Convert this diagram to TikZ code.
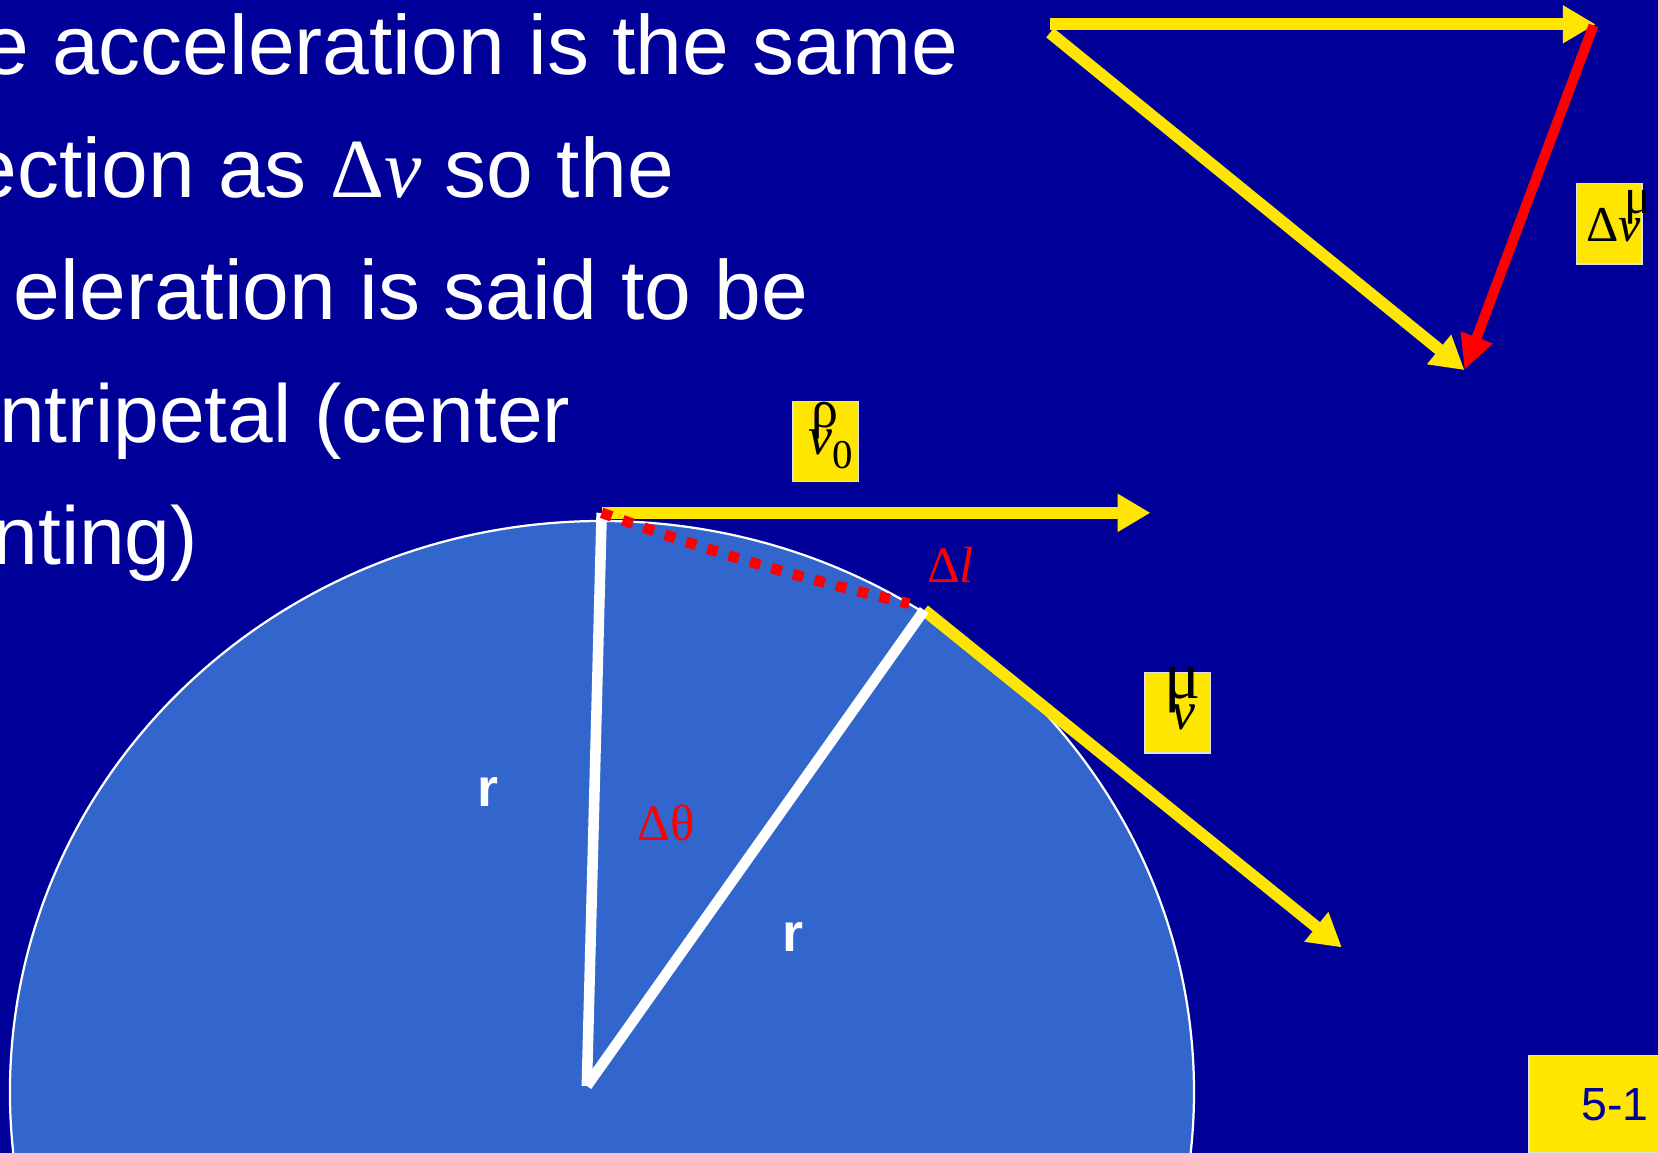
\documentclass[tikz,border=0pt]{standalone}
\usepackage{fontspec}
\setmainfont{Liberation Sans}
\newfontfamily\timesfont{Liberation Serif}
\usetikzlibrary{arrows.meta}

\definecolor{slideblue}{RGB}{0,0,153}
\definecolor{diskblue}{RGB}{51,102,204}
\definecolor{vecyellow}{RGB}{255,230,0}
\definecolor{vecred}{RGB}{255,0,0}
\definecolor{boxedge}{RGB}{225,225,225}

% mark set above a letter, as the slide prints it
\newcommand{\markover}[3]{\rlap{\hspace*{#2}\raisebox{#3}{#1}}}

\begin{document}
\begin{tikzpicture}[x=0.01cm,y=-0.01cm,
  slidetext/.style={text=white,inner sep=0,anchor=base east,
    font=\fontsize{22.6}{26}\selectfont},
  vecarrow/.style={draw=vecyellow,line width=0.113cm,
    -{Triangle[length=0.31cm,width=0.34cm]}},
  dvarrow/.style={draw=vecred,line width=0.095cm,
    -{Triangle[length=0.33cm,width=0.30cm]}},
  radline/.style={draw=white,line width=0.1cm},
  veclabel/.style={fill=vecyellow,draw=boxedge,line width=0.4pt,inner sep=0,
    minimum width=0.62cm,minimum height=0.76cm,
    font=\timesfont\fontsize{14.5}{16}\selectfont},
  rlabel/.style={text=white,inner sep=0,anchor=base west,
    font=\bfseries\fontsize{14.5}{16}\selectfont},
  anglabel/.style={text=vecred,inner sep=0,anchor=base west,
    font=\timesfont\fontsize{13.7}{16}\selectfont}]

  \useasboundingbox (0,0) rectangle (1568,1090);
  \fill[slideblue] (0,0) rectangle (1568,1090);

  % geometry of the circle
  \coordinate (O) at (555,1027);
  \coordinate (A) at (569,485);
  \coordinate (B) at (874,577);
  \coordinate (arcend) at (860,571);
  \coordinate (v0tip) at (1088,485);
  \coordinate (vtip) at (1269,896);
  % vector triangle
  \coordinate (dvS) at (993,23);
  \coordinate (dvE) at (1509,23);
  \coordinate (dvD) at (993,31);
  \coordinate (dvR) at (1507,24);
  \coordinate (dvT) at (1385,350);

  \filldraw[fill=diskblue,draw=white,line width=0.6pt]
    (569.3,1032.7) ellipse [x radius=559.9,y radius=540];

  \draw[vecarrow] (A) -- (v0tip);
  \draw[vecarrow] (B) -- (vtip);
  \draw[radline] (O) -- (A);
  \draw[radline] (O) -- (B);
  \draw[vecred,line width=0.1cm,dash pattern=on 0.1cm off 0.111cm]
    (A) to[bend right=3] (arcend);

  \draw[vecarrow] (dvS) -- (dvE);
  \draw[vecarrow] (dvD) -- (dvT);
  \draw[dvarrow] (dvR) -- (dvT);

  % text of the slide
  \node[slidetext] (line1) at (907,70) {e acceleration is the same};
  \node[slidetext] (line2) at (638,186.5) {ection as {\timesfont Δ\textit{v}} so the};
  \node[slidetext] (line3) at (765,302) {eleration is said to be};
  \node[slidetext,font=\fontsize{22.1}{26}\selectfont] (line4) at (540,418) {ntripetal (center};
  \node[slidetext,font=\fontsize{22.1}{26}\selectfont] (line5) at (188,534) {nting)};

  \node[rlabel] (r1) at (451,763) {r};
  \node[rlabel] (r2) at (739,900) {r};
  \node[anglabel] (dtheta) at (602,795) {Δθ};
  \node[anglabel] (dl) at (876,551) {Δ\textit{l}};

  \node[veclabel,text height=0.3cm,text depth=0.05cm] (v0lab) at (781,417.5)
    {\hspace*{.1cm}\markover{ρ}{0.05em}{0.5em}\textit{v}\raisebox{-0.25em}{\fontsize{11}{12}\selectfont 0}};
  \node[veclabel,text height=0.36cm,text depth=0.04cm] (vlab) at (1114,674)
    {\hspace*{.1cm}\markover{\scalebox{1.25}{μ}}{-0.12em}{0.58em}\textit{v}};
  \node[veclabel,text height=0.37cm,text depth=0.04cm,
    font=\timesfont\fontsize{13.5}{15}\selectfont] (dvlab) at (1522,211.5)
    {\hspace*{.08cm}Δ\markover{μ}{0.12em}{0.55em}\textit{v}};

  \node[fill=vecyellow,draw=boxedge,line width=0.4pt,text=slideblue,inner sep=0,
    minimum width=1.63cm,minimum height=0.92cm,text height=0.32cm,text depth=0cm,
    font=\fontsize{12.5}{14}\selectfont] (slidenum) at (1527.5,1044) {5-1};
\end{tikzpicture}
\end{document}
